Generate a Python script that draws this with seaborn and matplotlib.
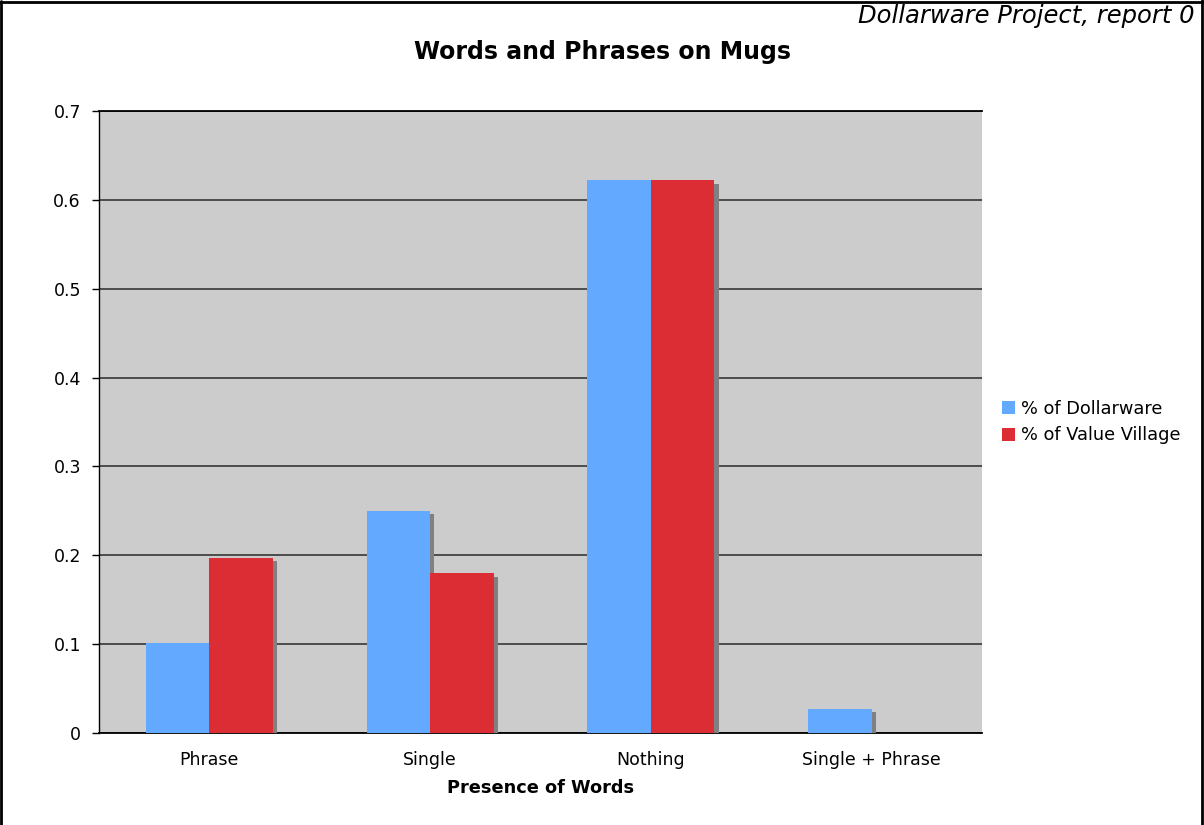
import matplotlib
matplotlib.use("Agg")
import matplotlib.pyplot as plt
import matplotlib.patheffects as pe
from matplotlib.lines import Line2D
import seaborn as sns
import pandas as pd

categories = ["Phrase", "Single", "Nothing", "Single + Phrase"]
dollarware = [0.101, 0.250, 0.622, 0.027]
value_village = [0.197, 0.180, 0.622, 0.0]
series_names = ["% of Dollarware", "% of Value Village"]
colors = ["#63a9ff", "#dc2d34"]
y_ticks = [0, 0.1, 0.2, 0.3, 0.4, 0.5, 0.6, 0.7]
y_tick_labels = ["0", "0.1", "0.2", "0.3", "0.4", "0.5", "0.6", "0.7"]

df = pd.DataFrame({
    "Presence of Words": categories * 2,
    "value": dollarware + value_village,
    "series": [series_names[0]] * 4 + [series_names[1]] * 4,
})

sns.set_style("white")
plt.rcParams["font.family"] = ["DejaVu Sans"]
plt.rcParams["text.color"] = "black"
plt.rcParams["axes.labelcolor"] = "black"
plt.rcParams["xtick.color"] = "black"
plt.rcParams["ytick.color"] = "black"

fig = plt.figure(figsize=(12.04, 8.25), dpi=100)
ax = fig.add_axes([99 / 1204, 1 - 733 / 825, (982 - 99) / 1204, (733 - 111) / 825])

sns.barplot(data=df, x="Presence of Words", y="value", hue="series",
            palette=colors, width=0.575, saturation=1, ax=ax,
            linewidth=0, edgecolor="none", errorbar=None, zorder=3)

leg = ax.legend(loc="center left", bbox_to_anchor=(1.005, 0.5), frameon=False,
                fontsize=12.8, handlelength=0.72, handleheight=0.72, handletextpad=0.35,
                labelspacing=0.5)

for p in ax.patches:
    p.set_path_effects([pe.SimplePatchShadow(offset=(3, -2.5), shadow_rgbFace="#808080", alpha=1.0),
                        pe.Normal()])

ax.set_facecolor("#cccccc")
ax.set_xlim(-0.5, 3.5)
ax.set_ylim(0, 0.7)
ax.set_yticks(y_ticks)
ax.set_yticklabels(y_tick_labels, fontsize=12.5)
ax.yaxis.grid(True, color="#2a2a2a", linewidth=1.1, zorder=1)
ax.set_axisbelow(True)
ax.xaxis.grid(False)

ax.set_xticks(range(4))
ax.set_xticklabels(categories, fontsize=12.5)
ax.set_xticks([-0.5, 0.5, 1.5, 2.5, 3.5], minor=True)
ax.tick_params(axis="x", which="major", length=0, pad=13)
ax.tick_params(axis="x", which="minor", length=5, width=1, color="black", direction="out")
ax.tick_params(axis="y", which="major", length=5, width=1, color="black", direction="out", pad=8, left=True)

ax.spines["right"].set_visible(False)
ax.spines["top"].set_color("black")
ax.spines["top"].set_linewidth(1.3)
ax.spines["left"].set_color("black")
ax.spines["bottom"].set_color("black")
ax.spines["left"].set_linewidth(1.0)
ax.spines["bottom"].set_linewidth(1.3)

ax.set_ylabel("")
ax.set_xlabel("Presence of Words", fontsize=12.8, fontweight="bold", labelpad=7)

fig.text(0.5, 1 - 52 / 825, "Words and Phrases on Mugs", ha="center", va="center",
         fontsize=17, fontweight="bold")
fig.text(858 / 1204, 1 - 16 / 825, "Dollarware Project, report 0", ha="left", va="center",
         fontsize=17.5, style="italic")

# figure border (left, top, right)
fig.add_artist(Line2D([0.001, 0.001], [0, 0.999], transform=fig.transFigure, color="black", lw=2))
fig.add_artist(Line2D([0, 1], [0.998, 0.998], transform=fig.transFigure, color="black", lw=2))
fig.add_artist(Line2D([0.9985, 0.9985], [0, 1], transform=fig.transFigure, color="black", lw=2))

fig.savefig("out.png", dpi=100)
